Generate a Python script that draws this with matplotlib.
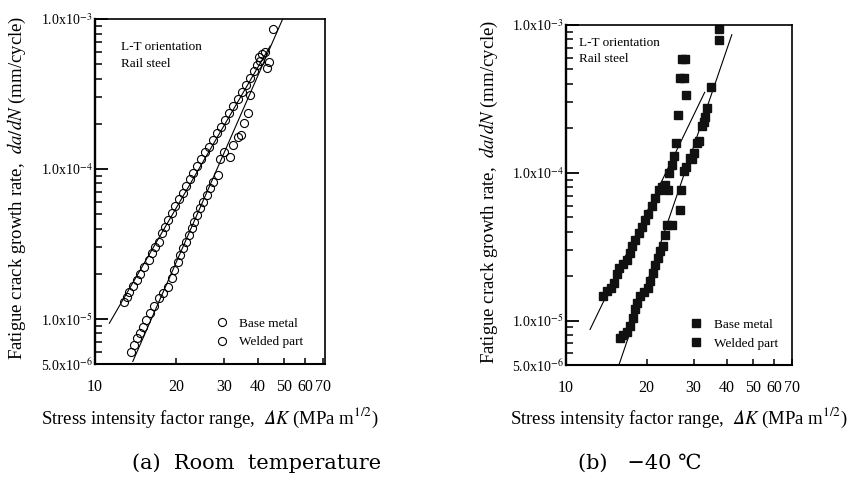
import numpy as np
import matplotlib
matplotlib.use('Agg')
import matplotlib.pyplot as plt
from matplotlib.ticker import FixedLocator, FixedFormatter, FuncFormatter, LogLocator, NullFormatter, NullLocator

# font setup: Times-like text, stix math
plt.rcParams['font.family'] = ['Liberation Serif', 'DejaVu Serif']
plt.rcParams['mathtext.fontset'] = 'stix'

# (a) room temperature
a_base_dk = [12.8, 13.1, 13.4, 13.8, 14.3, 14.7, 15.2, 15.8, 16.2, 16.7, 17.2, 17.7, 18.2, 18.7,
             19.2, 19.8, 20.5, 21.1, 21.7, 22.5, 23.1, 23.9, 24.7, 25.6, 26.4, 27.3, 28.2, 29.2,
             30.3, 31.4, 32.5, 33.7, 34.9, 36.3, 37.5, 38.8, 39.7, 40.3, 41.4, 42.6]
a_base_rate = [1.29e-5, 1.39e-5, 1.52e-5, 1.66e-5, 1.82e-5, 2.0e-5, 2.21e-5, 2.47e-5, 2.74e-5, 3.03e-5,
               3.28e-5, 3.72e-5, 4.12e-5, 4.57e-5, 5.07e-5, 5.67e-5, 6.28e-5, 6.95e-5, 7.7e-5, 8.54e-5,
               9.45e-5, 1.05e-4, 1.16e-4, 1.29e-4, 1.41e-4, 1.56e-4, 1.73e-4, 1.91e-4, 2.12e-4, 2.35e-4,
               2.63e-4, 2.92e-4, 3.28e-4, 3.63e-4, 4.03e-4, 4.52e-4, 4.93e-4, 5.61e-4, 5.82e-4, 6.05e-4]
a_weld_dk = [13.6, 13.9, 14.3, 14.7, 15.1, 15.5, 16.0, 16.5, 17.2, 17.9, 18.7, 19.2, 19.6, 20.2,
             20.6, 21.2, 21.7, 22.2, 22.8, 23.3, 23.9, 24.5, 25.2, 25.9, 26.7, 27.4, 28.6, 28.9,
             29.9, 31.6, 32.4, 33.7, 34.6, 35.6, 36.7, 37.5, 40.8, 43.3, 43.9, 45.5]
a_weld_rate = [6.05e-6, 6.71e-6, 7.43e-6, 8.03e-6, 8.89e-6, 9.85e-6, 1.09e-5, 1.22e-5, 1.37e-5, 1.48e-5,
               1.64e-5, 1.87e-5, 2.12e-5, 2.41e-5, 2.67e-5, 2.96e-5, 3.28e-5, 3.63e-5, 4.02e-5, 4.46e-5,
               4.94e-5, 5.47e-5, 6.05e-5, 6.71e-5, 7.43e-5, 8.23e-5, 9.12e-5, 1.16e-4, 1.29e-4, 1.20e-4,
               1.45e-4, 1.64e-4, 1.69e-4, 2.02e-4, 2.37e-4, 3.11e-4, 5.25e-4, 4.69e-4, 5.19e-4, 8.57e-4]
a_base_fit_dk = [11.3, 44.5]
a_base_fit_rate = [9.35e-6, 6.6e-4]
a_weld_fit_dk = [13.8, 49.5]
a_weld_fit_rate = [5.2e-6, 1.0e-3]

# (b) -40 C
b_base_dk = [13.8, 14.2, 14.7, 15.1, 15.5, 15.8, 16.4, 16.9, 17.3, 17.7, 18.1, 18.7, 19.2, 19.8,
             20.3, 20.9, 21.5, 22.2, 22.8, 23.5, 24.0, 24.3, 24.9, 25.4, 25.8, 26.2, 28.1, 26.8,
             27.6, 27.2, 27.8]
b_base_rate = [1.46e-5, 1.58e-5, 1.66e-5, 1.80e-5, 2.05e-5, 2.27e-5, 2.43e-5, 2.58e-5, 2.86e-5, 3.18e-5,
               3.52e-5, 3.92e-5, 4.30e-5, 4.76e-5, 5.28e-5, 5.98e-5, 6.75e-5, 7.59e-5, 8.0e-5, 8.3e-5,
               7.68e-5, 9.96e-5, 1.13e-4, 1.29e-4, 1.60e-4, 2.47e-4, 3.37e-4, 4.36e-4, 4.36e-4, 5.86e-4,
               5.86e-4]
b_weld_dk = [15.9, 16.4, 16.9, 17.4, 17.8, 18.1, 18.5, 18.9, 19.6, 20.2, 20.6, 21.1, 21.5, 22.0,
             22.5, 23.0, 23.5, 23.8, 24.9, 26.6, 27.0, 27.7, 28.2, 29.0, 29.6, 30.2, 30.9, 31.3,
             32.2, 32.7, 33.2, 33.7, 34.8, 37.2, 37.2]
b_weld_rate = [7.64e-6, 8.04e-6, 8.33e-6, 9.16e-6, 1.04e-5, 1.19e-5, 1.32e-5, 1.46e-5, 1.55e-5, 1.66e-5,
               1.85e-5, 2.10e-5, 2.39e-5, 2.65e-5, 2.94e-5, 3.18e-5, 3.81e-5, 4.45e-5, 4.45e-5, 5.56e-5,
               7.67e-5, 1.02e-4, 1.10e-4, 1.26e-4, 1.23e-4, 1.36e-4, 1.60e-4, 1.63e-4, 2.08e-4, 2.22e-4,
               2.40e-4, 2.73e-4, 3.83e-4, 7.92e-4, 9.35e-4]
b_base_fit_dk = [12.3, 33.0]
b_base_fit_rate = [8.7e-6, 3.5e-4]
b_weld_fit_dk = [15.8, 41.7]
b_weld_fit_rate = [5.05e-6, 8.6e-4]

dk_ticks = [10, 20, 30, 40, 50, 60, 70]
dk_tick_labels = ['10', '20', '30', '40', '50', '60', '70']
rate_ticks = [5e-6, 1e-5, 1e-4, 1e-3]

# italic delta from the math alphanumeric block so it slants like the original
xlabel = 'Stress intensity factor range,  $\U0001D6E5\\mathit{K}$ (MPa m$^{1/2}$)'
ylabel = r'Fatigue crack growth rate,  $\mathit{da/dN}$ (mm/cycle)'


def rate_label(v, pos):
    e = int(np.floor(round(np.log10(v), 6)))
    m = v / 10.0**e
    return '%.1fx10$^{%d}$' % (m, e)


def style(ax, xmax):
    ax.set_xscale('log')
    ax.set_yscale('log')
    ax.set_xlim(10, xmax)
    ax.set_ylim(5e-6, 1e-3)
    ax.xaxis.set_major_locator(FixedLocator(dk_ticks))
    ax.xaxis.set_major_formatter(FixedFormatter(dk_tick_labels))
    ax.xaxis.set_minor_locator(NullLocator())
    ax.yaxis.set_major_locator(FixedLocator(rate_ticks))
    ax.yaxis.set_major_formatter(FuncFormatter(rate_label))
    ax.yaxis.set_minor_locator(LogLocator(base=10, subs=np.arange(2, 10)))
    ax.yaxis.set_minor_formatter(NullFormatter())
    ax.tick_params(axis='y', which='major', direction='in', length=9, width=1.3, labelsize=10, pad=2)
    ax.tick_params(axis='y', which='minor', direction='in', length=5, width=1.1)
    ax.tick_params(axis='x', which='major', direction='in', length=4, width=1.1, labelsize=11.5, pad=11)
    for s in ax.spines.values():
        s.set_linewidth(1.2)
    ax.spines['left'].set_linewidth(1.7)
    ax.spines['bottom'].set_linewidth(1.5)
    ax.set_xlabel(xlabel, fontsize=13.5)
    ax.set_ylabel(ylabel, fontsize=13.5)


fig = plt.figure(figsize=(8.52, 4.82), dpi=100)
axa = fig.add_axes([95/852, 1-364/482, 230/852, 345/482])
axb = fig.add_axes([566/852, 1-365/482, 226/852, 340/482])

# panel (a)
style(axa, 71)
axa.plot(a_base_fit_dk, a_base_fit_rate, color='black', lw=0.8)
axa.plot(a_weld_fit_dk, a_weld_fit_rate, color='black', lw=0.8)
axa.plot(a_base_dk, a_base_rate, 'o', mfc='none', mec='black', ms=5.8, mew=0.8, label='Base metal')
axa.plot(a_weld_dk, a_weld_rate, 'o', mfc='none', mec='black', ms=5.8, mew=0.8, label='Welded part')
axa.text(0.112, 0.935, 'L-T orientation\nRail steel', transform=axa.transAxes,
         va='top', ha='left', fontsize=9.5, linespacing=1.5)
axa.legend(loc='lower right', bbox_to_anchor=(0.93, 0.03), frameon=False, fontsize=9.5,
           handlelength=1.0, handletextpad=0.8, labelspacing=0.5, borderaxespad=0)
axa.xaxis.set_label_coords(0.5, -0.12)
axa.yaxis.set_label_coords(-0.29, 0.51)

# panel (b)
style(axb, 70)
axb.plot(b_base_fit_dk, b_base_fit_rate, color='black', lw=0.8)
axb.plot(b_weld_fit_dk, b_weld_fit_rate, color='black', lw=0.8)
axb.plot(b_base_dk, b_base_rate, 's', color='#111111', ms=5.8, label='Base metal')
axb.plot(b_weld_dk, b_weld_rate, 's', color='#111111', ms=5.3, label='Welded part')
axb.text(0.058, 0.965, 'L-T orientation\nRail steel', transform=axb.transAxes,
         va='top', ha='left', fontsize=9.5, linespacing=1.5)
axb.legend(loc='lower right', bbox_to_anchor=(0.96, 0.03), frameon=False, fontsize=9.5,
           handlelength=1.0, handletextpad=0.8, labelspacing=0.5, borderaxespad=0)
axb.xaxis.set_label_coords(0.5, -0.12)
axb.yaxis.set_label_coords(-0.29, 0.51)

# captions
fig.text(257/852, 1-463/482, '(a)  Room  temperature', ha='center', va='center',
         fontsize=15, family=['DejaVu Serif', 'Noto Sans CJK KR'])
fig.text(640/852, 1-463/482, '(b)   \u221240 \u2103', ha='center', va='center',
         fontsize=15, family=['DejaVu Serif', 'Noto Sans CJK KR'])

fig.savefig('out.png', dpi=100)
